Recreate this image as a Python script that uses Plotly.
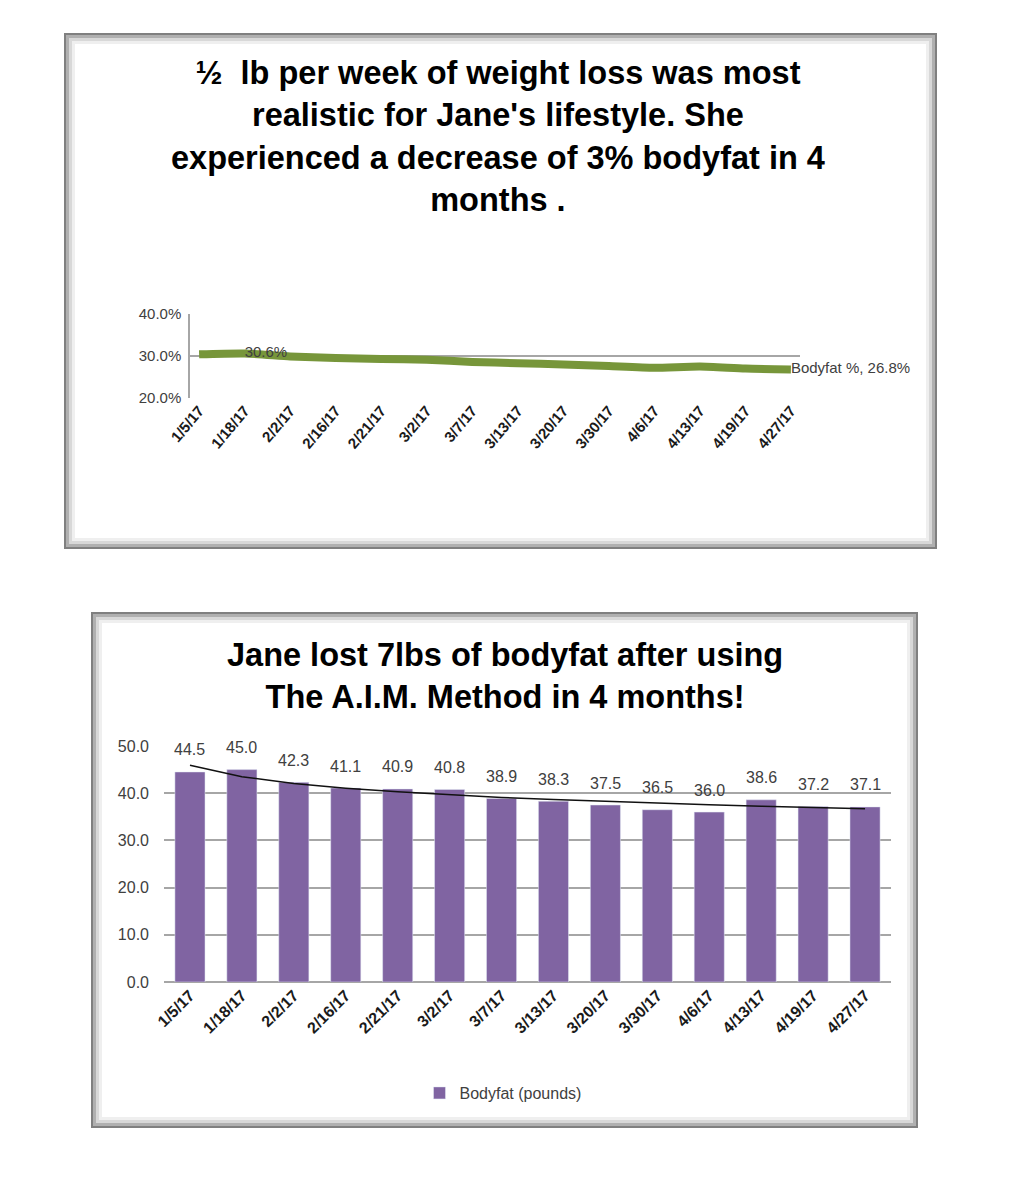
import numpy as np
import plotly.graph_objects as go

# ---------------- data ----------------
dates = ["1/5/17", "1/18/17", "2/2/17", "2/16/17", "2/21/17", "3/2/17", "3/7/17",
         "3/13/17", "3/20/17", "3/30/17", "4/6/17", "4/13/17", "4/19/17", "4/27/17"]
bodyfat_pct = [30.4, 30.6, 29.9, 29.5, 29.3, 29.1, 28.6, 28.3, 28.0, 27.6, 27.2, 27.5, 27.0, 26.8]
bodyfat_lbs = [44.5, 45.0, 42.3, 41.1, 40.9, 40.8, 38.9, 38.3, 37.5, 36.5, 36.0, 38.6, 37.2, 37.1]
pct_ticks = [20, 30, 40]
pct_ticktext = ["20.0%", "30.0%", "40.0%"]
lbs_ticks = [0, 10, 20, 30, 40, 50]

top_title = ("½  lb per week of weight loss was most<br>realistic for Jane's lifestyle. She<br>"
             "experienced a decrease of 3% bodyfat in 4<br>months .")
bottom_title = "Jane lost 7lbs of bodyfat after using<br>The A.I.M. Method in 4 months!"

W, H = 1010, 1200
def px(x):
    return x / W
def py(y):
    return 1 - y / H

FONT = "Liberation Sans, Arial, sans-serif"

fig = go.Figure()

# ---------------- top chart (line) ----------------
last = len(dates) - 1
labels_top = ["" for _ in dates]
labels_top[1] = f"{bodyfat_pct[1]:.1f}%"
labels_top[last] = f"Bodyfat %, {bodyfat_pct[last]:.1f}%"
fig.add_trace(go.Scatter(
    x=dates, y=bodyfat_pct, mode="lines+text", xaxis="x", yaxis="y",
    line=dict(color="#77963A", width=8, shape="spline", smoothing=0.6),
    text=labels_top, textposition="middle right",
    textfont=dict(family=FONT, size=15, color="#404040"),
    showlegend=False, hoverinfo="skip", cliponaxis=False))

# ---------------- bottom chart (bars) ----------------
fig.add_trace(go.Bar(
    x=dates, y=bodyfat_lbs, xaxis="x2", yaxis="y2", name="Bodyfat (pounds)",
    marker=dict(color="#8064A2"), width=0.58, showlegend=True))

# logarithmic trendline fitted from the data
idx = np.arange(1, len(bodyfat_lbs) + 1)
b, a = np.polyfit(np.log(idx), np.array(bodyfat_lbs), 1)
trend = a + b * np.log(idx)
fig.add_trace(go.Scatter(
    x=dates, y=trend, mode="lines", xaxis="x2", yaxis="y2",
    line=dict(color="#111111", width=1.5), showlegend=False, hoverinfo="skip"))

for d, v in zip(dates, bodyfat_lbs):
    fig.add_annotation(x=d, y=v, xref="x2", yref="y2", text=f"{v:.1f}",
                       showarrow=False, yshift=22,
                       font=dict(family=FONT, size=16, color="#404040"))

# ---------------- frames ----------------
shapes = []
def frame(x0, y0, x1, y1):
    out = []
    specs = [(0, "#808080", 2), (2.5, "#b0b0b0", 3), (5.5, "#d8d8d8", 3), (8.5, "#efefef", 3)]
    for off, col, w in specs:
        out.append(dict(type="rect", xref="paper", yref="paper",
                        x0=px(x0 + off), x1=px(x1 - off), y0=py(y1 - off), y1=py(y0 + off),
                        line=dict(color=col, width=w), fillcolor="rgba(0,0,0,0)", layer="below"))
    return out
shapes += frame(65, 34, 936, 548)
shapes += frame(92, 613, 917, 1127)

fig.update_layout(
    width=W, height=H,
    margin=dict(l=0, r=0, t=0, b=0, autoexpand=False),
    paper_bgcolor="white", plot_bgcolor="white",
    shapes=shapes,
    xaxis=dict(domain=[px(190), px(800)], type="category", range=[-0.2, 13.2],
               tickangle=-50, showgrid=False, showline=False, ticks="", automargin=False,
               tickfont=dict(family=FONT, size=15, color="#1a1a1a", weight="bold"),
               anchor="y"),
    yaxis=dict(domain=[py(398), py(314)], range=[20, 40], tickvals=pct_ticks,
               ticktext=pct_ticktext, showgrid=True, automargin=False,
               gridcolor="#a6a6a6", gridwidth=1.5, showline=True, linecolor="#a6a6a6",
               linewidth=1.5, zeroline=False, ticklabelstandoff=4,
               tickfont=dict(family=FONT, size=15, color="#404040"),
               anchor="x"),
    xaxis2=dict(domain=[px(164), px(891)], type="category", automargin=False,
                tickangle=-45, showgrid=False, showline=False, ticks="",
                tickfont=dict(family=FONT, size=16, color="#1a1a1a", weight="bold"),
                anchor="y2"),
    yaxis2=dict(domain=[py(982), py(746)], range=[0, 50], tickvals=lbs_ticks,
                tickformat=".1f", showgrid=True, gridcolor="#a6a6a6", gridwidth=1.5,
                zeroline=True, zerolinecolor="#a6a6a6", zerolinewidth=1.5,
                showline=False, automargin=False, ticklabelstandoff=14,
                tickfont=dict(family=FONT, size=16, color="#404040"),
                anchor="x2"),
    legend=dict(x=px(503), y=py(1093), xanchor="center", yanchor="middle",
                orientation="h", font=dict(family=FONT, size=16, color="#404040"),
                bgcolor="rgba(0,0,0,0)"),
    bargap=0.42,
)

fig.add_annotation(xref="paper", yref="paper", x=px(498), y=py(137),
                   text=top_title, showarrow=False, xanchor="center", yanchor="middle",
                   font=dict(family=FONT, size=32.5, color="black", weight="bold"))
fig.add_annotation(xref="paper", yref="paper", x=px(505), y=py(676),
                   text=bottom_title, showarrow=False, xanchor="center", yanchor="middle",
                   font=dict(family=FONT, size=32.5, color="black", weight="bold"))

fig.write_html("out.html")
